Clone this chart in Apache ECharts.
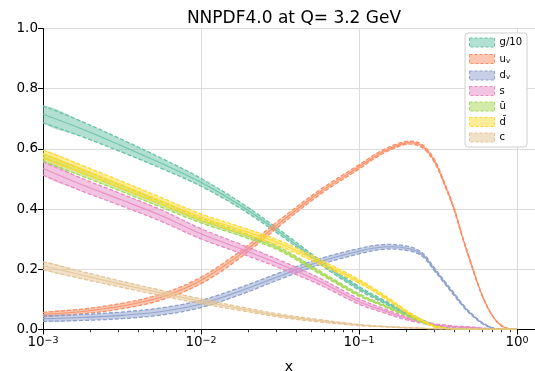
<!DOCTYPE html>
<html><head><meta charset="utf-8">
<script src="https://cdn.jsdelivr.net/npm/echarts@6/dist/echarts.min.js"></script>
<style>html,body{margin:0;padding:0;background:#fff}#c{width:535px;height:371px}</style>
</head><body><div id="c"></div>
<script>
// x grid (momentum fraction)
const xs = [0.001, 0.00178, 0.00316, 0.00562, 0.01, 0.0178, 0.0316, 0.0562, 0.1, 0.141, 0.2, 0.25, 0.3, 0.35, 0.4, 0.45, 0.5, 0.6, 0.7, 0.8, 0.9, 1.0];
// central values x f(x)
const g10  = [0.715, 0.665, 0.61, 0.552, 0.489, 0.412, 0.322, 0.225, 0.137, 0.095, 0.053, 0.03, 0.014, 0.006, 0.003, 0.001, 0.0005, 0, 0, 0, 0, 0];
const uv   = [0.05, 0.06, 0.078, 0.108, 0.163, 0.25, 0.355, 0.455, 0.54, 0.59, 0.62, 0.61, 0.56, 0.48, 0.4, 0.31, 0.235, 0.115, 0.045, 0.012, 0.002, 0];
const dv   = [0.036, 0.04, 0.047, 0.06, 0.085, 0.128, 0.178, 0.225, 0.26, 0.274, 0.27, 0.25, 0.2, 0.155, 0.117, 0.083, 0.057, 0.022, 0.005, 0.001, 0, 0];
const sq   = [0.535, 0.48, 0.43, 0.378, 0.318, 0.268, 0.217, 0.16, 0.093, 0.064, 0.037, 0.025, 0.016, 0.012, 0.009, 0.008, 0.007, 0.004, 0.002, 0.0005, 0, 0];
const ubar = [0.572, 0.52, 0.468, 0.415, 0.362, 0.318, 0.267, 0.19, 0.115, 0.081, 0.047, 0.025, 0.012, 0.005, 0.002, 0.001, 0, 0, 0, 0, 0, 0];
const dbar = [0.582, 0.532, 0.48, 0.427, 0.374, 0.331, 0.286, 0.225, 0.16, 0.113, 0.059, 0.03, 0.01, 0.004, 0.001, 0, 0, 0, 0, 0, 0, 0];
const cq   = [0.212, 0.18, 0.15, 0.121, 0.094, 0.069, 0.046, 0.029, 0.015, 0.01, 0.006, 0.004, 0.002, 0.001, 0.001, 0, 0, 0, 0, 0, 0, 0];
// one-sigma half widths
const g10Err  = [0.028, 0.025, 0.021, 0.017, 0.013, 0.01, 0.008, 0.007, 0.006, 0.005, 0.004, 0.003, 0.002, 0.001, 0.001, 0, 0, 0, 0, 0, 0, 0];
const uvErr   = [0.007, 0.008, 0.009, 0.01, 0.011, 0.011, 0.01, 0.008, 0.007, 0.006, 0.005, 0.005, 0.005, 0.004, 0.004, 0.003, 0.003, 0.002, 0.001, 0.001, 0, 0];
const dvErr   = [0.009, 0.01, 0.011, 0.012, 0.012, 0.012, 0.011, 0.01, 0.009, 0.008, 0.007, 0.006, 0.005, 0.004, 0.004, 0.003, 0.003, 0.002, 0.001, 0, 0, 0];
const sErr    = [0.022, 0.021, 0.02, 0.019, 0.017, 0.015, 0.013, 0.011, 0.009, 0.007, 0.005, 0.004, 0.003, 0.003, 0.002, 0.002, 0.002, 0.001, 0.001, 0, 0, 0];
const ubarErr = [0.012, 0.011, 0.01, 0.009, 0.008, 0.007, 0.006, 0.005, 0.004, 0.003, 0.002, 0.002, 0.001, 0.001, 0, 0, 0, 0, 0, 0, 0, 0];
const dbarErr = [0.014, 0.013, 0.012, 0.011, 0.01, 0.01, 0.009, 0.008, 0.006, 0.005, 0.004, 0.003, 0.002, 0.001, 0.001, 0, 0, 0, 0, 0, 0, 0];
const cErr    = [0.013, 0.012, 0.01, 0.009, 0.008, 0.006, 0.005, 0.004, 0.002, 0.001, 0.001, 0, 0, 0, 0, 0, 0, 0, 0, 0, 0, 0];

const names  = ['g/10', 'u_v', 'd_v', 's', 'ū', 'd̄', 'c'];
const colors = ['#66c2a5', '#fc8d62', '#8da0cb', '#e78ac3', '#a6d854', '#ffd92f', '#e5c494'];
const fills  = ['rgba(102,194,165,0.5)', 'rgba(252,141,98,0.5)', 'rgba(141,160,203,0.5)', 'rgba(231,138,195,0.5)', 'rgba(166,216,84,0.5)', 'rgba(255,217,47,0.5)', 'rgba(229,196,148,0.5)'];
const centrals = [g10, uv, dv, sq, ubar, dbar, cq];
const errs = [g10Err, uvErr, dvErr, sErr, ubarErr, dbarErr, cErr];

const majorX = [0.001, 0.01, 0.1, 1];
const minorX = [];
for (const d of [0.001, 0.01, 0.1]) for (let k = 2; k <= 9; k++) minorX.push(+(k * d).toPrecision(3));

const SM = 0.35;
const series = names.map((nm, i) => {
  const c = centrals[i], e = errs[i];
  const lo = c.map((v, j) => Math.max(0, v - e[j]));
  const hi = c.map((v, j) => v + e[j]);
  return {
    type: 'custom', name: nm, silent: true, clip: true,
    itemStyle: { color: colors[i] },
    data: xs.map((x, j) => [x, c[j]]),
    encode: { x: 0, y: 1 },
    renderItem: (params, api) => {
      if (params.dataIndex !== 0) return null;
      const pc = xs.map((x, j) => api.coord([x, c[j]]));
      const pl = xs.map((x, j) => api.coord([x, lo[j]]));
      const ph = xs.map((x, j) => api.coord([x, hi[j]]));
      return {
        type: 'group',
        children: [
          { type: 'polygon', shape: { points: ph.concat(pl.slice().reverse()), smooth: SM },
            style: { fill: fills[i], stroke: null } },
          { type: 'polyline', shape: { points: pl, smooth: SM },
            style: { fill: null, stroke: colors[i], lineWidth: 1.3, lineDash: [4, 2] } },
          { type: 'polyline', shape: { points: ph, smooth: SM },
            style: { fill: null, stroke: colors[i], lineWidth: 1.3, lineDash: [4, 2] } },
          { type: 'polyline', shape: { points: pc, smooth: SM },
            style: { fill: null, stroke: colors[i], lineWidth: 1.1, opacity: 0.9 } }
        ]
      };
    }
  };
});

const fmtName = n => {
  if (n === 'u_v') return 'u{s|v}';
  if (n === 'd_v') return 'd{s|v}';
  return n;
};

const chart = echarts.init(document.getElementById('c'), null, { renderer: 'canvas' });
chart.setOption({
  animation: false,
  backgroundColor: '#ffffff',
  textStyle: { fontFamily: 'DejaVu Sans' },
  title: {
    text: 'NNPDF4.0 at Q= 3.2 GeV', left: 289, top: 5, textAlign: 'center',
    textStyle: { fontFamily: 'DejaVu Sans', fontSize: 17, fontWeight: 'normal', color: '#000' }
  },
  grid: { left: 43, right: 0, top: 28.5, bottom: 41.5, containLabel: false, outerBoundsMode: 'none' },
  legend: {
    orient: 'vertical', right: 8, top: 33,
    backgroundColor: '#fff', borderColor: '#d0d0d0', borderWidth: 1, borderRadius: 3,
    padding: [4, 5, 4, 4], itemWidth: 25, itemHeight: 9, itemGap: 4.5, icon: 'rect',
    selectedMode: false,
    data: names.map((n, i) => ({
      name: n, icon: 'rect',
      itemStyle: { color: fills[i], borderColor: colors[i], borderWidth: 1, borderType: [3, 2] }
    })),
    formatter: fmtName,
    textStyle: {
      fontFamily: 'DejaVu Sans', fontSize: 10, color: '#000', lineHeight: 11,
      rich: { s: { fontSize: 7, lineHeight: 11, verticalAlign: 'bottom', padding: [5, 0, 0, 0] } }
    }
  },
  xAxis: [{
    type: 'log', logBase: 10, min: 0.001, max: 1.3,
    name: 'x', nameLocation: 'middle', nameGap: 31,
    nameTextStyle: { fontFamily: 'DejaVu Sans', fontSize: 14, color: '#000' },
    axisLine: { show: true, lineStyle: { color: '#000', width: 1 } },
    axisTick: { show: true, inside: false, length: 5, customValues: majorX, lineStyle: { color: '#000' } },
    axisLabel: {
      customValues: majorX, margin: 6, color: '#000', fontFamily: 'DejaVu Sans', fontSize: 13.5,
      formatter: v => { const e = Math.round(Math.log10(v)); return '10{sup|' + (e < 0 ? '−' + (-e) : e) + '}'; },
      rich: { sup: { fontSize: 9.5, lineHeight: 8, verticalAlign: 'top', color: '#000', fontFamily: 'DejaVu Sans' } }
    },
    splitLine: { show: true, lineStyle: { color: '#dcdcdc', width: 1 } }
  }, {
    type: 'log', logBase: 10, min: 0.001, max: 1.3, position: 'bottom',
    axisLine: { show: false },
    axisTick: { show: true, length: 2.8, customValues: minorX, lineStyle: { color: '#000', width: 0.8 } },
    axisLabel: { show: false },
    splitLine: { show: false }
  }],
  yAxis: {
    type: 'value', min: 0, max: 1, interval: 0.2,
    axisLine: { show: true, lineStyle: { color: '#000', width: 1 } },
    axisTick: { show: true, length: 5, lineStyle: { color: '#000' } },
    axisLabel: { color: '#000', fontFamily: 'DejaVu Sans', fontSize: 13.5, margin: 5, formatter: v => v.toFixed(1) },
    splitLine: { show: true, lineStyle: { color: '#dcdcdc', width: 1 } }
  },
  series: series
});
</script>
</body></html>
